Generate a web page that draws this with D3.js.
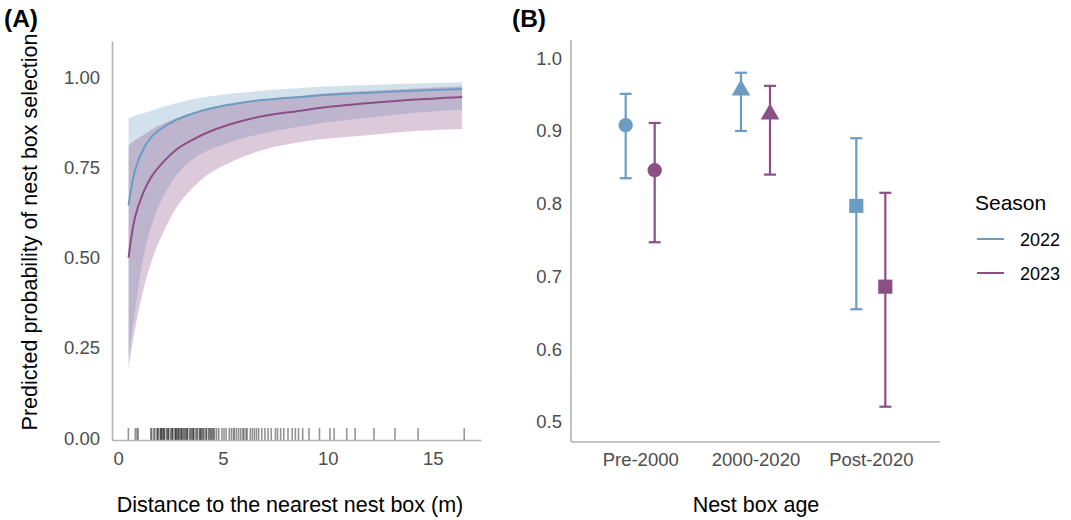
<!DOCTYPE html>
<html>
<head>
<meta charset="utf-8">
<script src="https://cdn.jsdelivr.net/npm/d3@7"></script>
<style>
  body { margin: 0; background: #fff; }
  svg { font-family: "Liberation Sans", Arial, sans-serif; }
  .tick text { fill: #4d4d4d; }
</style>
</head>
<body>
<svg id="chart" width="1071" height="520"></svg>
<script>
// panel A: predicted curves (distance in m)
const distance = [0.5, 0.8, 1.2, 1.6, 2.0, 2.8, 3.5, 4.4, 5.8, 7, 8.7, 10, 12, 14, 16.4];
const fit2022 = [0.645, 0.74, 0.80, 0.835, 0.855, 0.882, 0.898, 0.913, 0.928, 0.937, 0.945, 0.951, 0.957, 0.962, 0.967];
const lo2022 = [0.22, 0.35, 0.50, 0.59, 0.65, 0.73, 0.77, 0.80, 0.828, 0.845, 0.863, 0.875, 0.888, 0.90, 0.91];
const hi2022 = [0.886, 0.893, 0.90, 0.907, 0.915, 0.928, 0.938, 0.947, 0.957, 0.963, 0.97, 0.974, 0.978, 0.982, 0.986];
const fit2023 = [0.50, 0.61, 0.68, 0.725, 0.755, 0.80, 0.825, 0.85, 0.877, 0.893, 0.907, 0.917, 0.928, 0.937, 0.945];
const lo2023 = [0.19, 0.30, 0.41, 0.49, 0.55, 0.64, 0.69, 0.735, 0.775, 0.80, 0.82, 0.83, 0.84, 0.85, 0.856];
const hi2023 = [0.81, 0.825, 0.84, 0.855, 0.867, 0.887, 0.9, 0.913, 0.928, 0.938, 0.948, 0.955, 0.962, 0.968, 0.975];

// observed distances (rug)
const rugDist = [0.49, 0.82, 0.9, 0.96,
  1.56, 1.6, 1.7, 1.75, 1.85, 1.9, 2.0, 2.05, 2.1, 2.15, 2.2, 2.3, 2.35, 2.4, 2.4, 2.5,
  2.55, 2.6, 2.7, 2.75, 2.8, 2.85, 2.9, 3.0, 3.0, 3.05, 3.1, 3.2, 3.25, 3.3, 3.4, 3.45,
  3.5, 3.55, 3.6, 3.7, 3.75, 3.8, 3.9, 3.95, 4.0, 4.05, 4.1, 4.2, 4.3, 4.35, 4.4, 4.5,
  4.55, 4.6, 4.7, 4.8, 4.95, 5.05, 5.15, 5.3, 5.4, 5.5, 5.55, 5.65, 5.75, 5.85, 5.95,
  6.0, 6.1, 6.15, 6.3, 6.4, 6.5, 6.6, 6.7, 6.85, 7.0, 7.15, 7.3, 7.5, 7.6, 7.75, 7.9,
  8.1, 8.3, 8.45, 8.6, 8.8, 9.1, 9.6, 10.1, 10.3, 10.9, 11.3, 12.2, 13.2, 14.3, 16.5,
  1.9, 2.2, 2.6, 2.9, 3.3, 3.6, 3.9, 4.2, 4.45, 2.05, 2.75, 3.15];

// panel B: estimates by nest box age
const ageGroups = ["Pre-2000", "2000-2020", "Post-2020"];
const seasons = ["2022", "2023"];
const est2022 = [0.908, 0.956, 0.797];
const low2022 = [0.835, 0.900, 0.655];
const upp2022 = [0.951, 0.980, 0.890];
const est2023 = [0.846, 0.923, 0.686];
const low2023 = [0.747, 0.840, 0.521];
const upp2023 = [0.911, 0.962, 0.815];

const colors = { "2022": "#6c9cc2", "2023": "#8c4e86" };
const axisColor = "#b3b3b3";

const svg = d3.select("#chart");

function styleAxis(g) {
  g.select(".domain").attr("stroke", axisColor).attr("stroke-width", 1.6);
  g.selectAll(".tick line").remove();
  g.selectAll(".tick text").attr("font-size", "18.5px");
}

// ---------- panel A ----------
const xA = d3.scaleLinear().domain([-0.29, 17.3]).range([112, 481]);
const yA = d3.scaleLinear().domain([-0.005, 1.1]).range([440, 41]);

const curves = [
  { season: "2022", fit: fit2022, lo: lo2022, hi: hi2022 },
  { season: "2023", fit: fit2023, lo: lo2023, hi: hi2023 }
];

const area = d3.area()
  .x(d => xA(d.d))
  .y0(d => yA(d.lo))
  .y1(d => yA(d.hi))
  .curve(d3.curveCatmullRom.alpha(0.5));

const line = d3.line()
  .x(d => xA(d.d))
  .y(d => yA(d.fit))
  .curve(d3.curveCatmullRom.alpha(0.5));

curves.forEach(c => {
  const pts = distance.map((d, i) => ({ d: d, fit: c.fit[i], lo: c.lo[i], hi: c.hi[i] }));
  svg.append("path")
    .attr("d", area(pts))
    .attr("fill", colors[c.season])
    .attr("fill-opacity", 0.3);
});
curves.forEach(c => {
  const pts = distance.map((d, i) => ({ d: d, fit: c.fit[i] }));
  svg.append("path")
    .attr("d", line(pts))
    .attr("fill", "none")
    .attr("stroke", colors[c.season])
    .attr("stroke-width", 2);
});

// rug
svg.append("g")
  .selectAll("line")
  .data(rugDist)
  .enter()
  .append("line")
  .attr("x1", d => xA(d))
  .attr("x2", d => xA(d))
  .attr("y1", 428)
  .attr("y2", 440)
  .attr("stroke", "#000")
  .attr("stroke-opacity", 0.42)
  .attr("stroke-width", 1.6);

svg.append("g")
  .attr("transform", "translate(0,440)")
  .call(d3.axisBottom(xA).tickValues([0, 5, 10, 15]).tickSize(0).tickPadding(12))
  .call(styleAxis);

svg.append("g")
  .attr("transform", "translate(112,0)")
  .call(d3.axisLeft(yA).tickValues([0, 0.25, 0.5, 0.75, 1]).tickFormat(d3.format(".2f")).tickSize(0).tickPadding(12))
  .call(styleAxis);

svg.append("text")
  .attr("transform", "translate(37,232) rotate(-90)")
  .attr("text-anchor", "middle")
  .attr("font-size", "21.5px")
  .text("Predicted probability of nest box selection");

svg.append("text")
  .attr("x", 290)
  .attr("y", 512)
  .attr("text-anchor", "middle")
  .attr("font-size", "21.5px")
  .text("Distance to the nearest nest box (m)");

svg.append("text")
  .attr("x", 4)
  .attr("y", 27)
  .attr("font-size", "24.5px")
  .attr("font-weight", "bold")
  .text("(A)");

// ---------- panel B ----------
const xB = d3.scalePoint().domain(ageGroups).range([571, 940]).padding(0.6);
const yB = d3.scaleLinear().domain([0.4725, 1.025]).range([442, 40]);
const dodge = d3.scalePoint().domain(seasons).range([-14.5, 14.5]);
const shapes = [d3.symbolCircle, d3.symbolTriangle, d3.symbolSquare];
const shapeSizes = [160, 150, 200];

const points = [];
ageGroups.forEach((g, i) => {
  points.push({ group: g, idx: i, season: "2022", est: est2022[i], low: low2022[i], upp: upp2022[i] });
  points.push({ group: g, idx: i, season: "2023", est: est2023[i], low: low2023[i], upp: upp2023[i] });
});

const pg = svg.append("g");
points.forEach(p => {
  const cx = xB(p.group) + dodge(p.season);
  const col = colors[p.season];
  pg.append("line")
    .attr("x1", cx).attr("x2", cx)
    .attr("y1", yB(p.low)).attr("y2", yB(p.upp))
    .attr("stroke", col).attr("stroke-width", 2.2);
  [p.low, p.upp].forEach(v => {
    pg.append("line")
      .attr("x1", cx - 6).attr("x2", cx + 6)
      .attr("y1", yB(v)).attr("y2", yB(v))
      .attr("stroke", col).attr("stroke-width", 2.2);
  });
  pg.append("path")
    .attr("transform", `translate(${cx},${yB(p.est)})`)
    .attr("d", d3.symbol().type(shapes[p.idx]).size(shapeSizes[p.idx])())
    .attr("fill", col);
});

svg.append("g")
  .attr("transform", "translate(0,442)")
  .call(d3.axisBottom(xB).tickSize(0).tickPadding(11))
  .call(styleAxis)
  .call(g => g.select(".domain").attr("d", "M571,0H940"));

svg.append("g")
  .attr("transform", "translate(571,0)")
  .call(d3.axisLeft(yB).tickValues([0.5, 0.6, 0.7, 0.8, 0.9, 1.0]).tickFormat(d3.format(".1f")).tickSize(0).tickPadding(9))
  .call(styleAxis)
  .call(g => g.select(".domain").attr("d", "M0,442V40"));

svg.append("text")
  .attr("x", 756)
  .attr("y", 512)
  .attr("text-anchor", "middle")
  .attr("font-size", "21.5px")
  .text("Nest box age");

svg.append("text")
  .attr("x", 512)
  .attr("y", 27)
  .attr("font-size", "24.5px")
  .attr("font-weight", "bold")
  .text("(B)");

// legend
const legend = svg.append("g");
legend.append("text")
  .attr("x", 975)
  .attr("y", 210)
  .attr("font-size", "21px")
  .text("Season");

seasons.forEach((s, i) => {
  const y = 239 + i * 34;
  legend.append("line")
    .attr("x1", 977).attr("x2", 1004)
    .attr("y1", y).attr("y2", y)
    .attr("stroke", colors[s]).attr("stroke-width", 2);
  legend.append("text")
    .attr("x", 1020)
    .attr("y", y + 7)
    .attr("font-size", "18px")
    .text(s);
});
</script>
</body>
</html>
